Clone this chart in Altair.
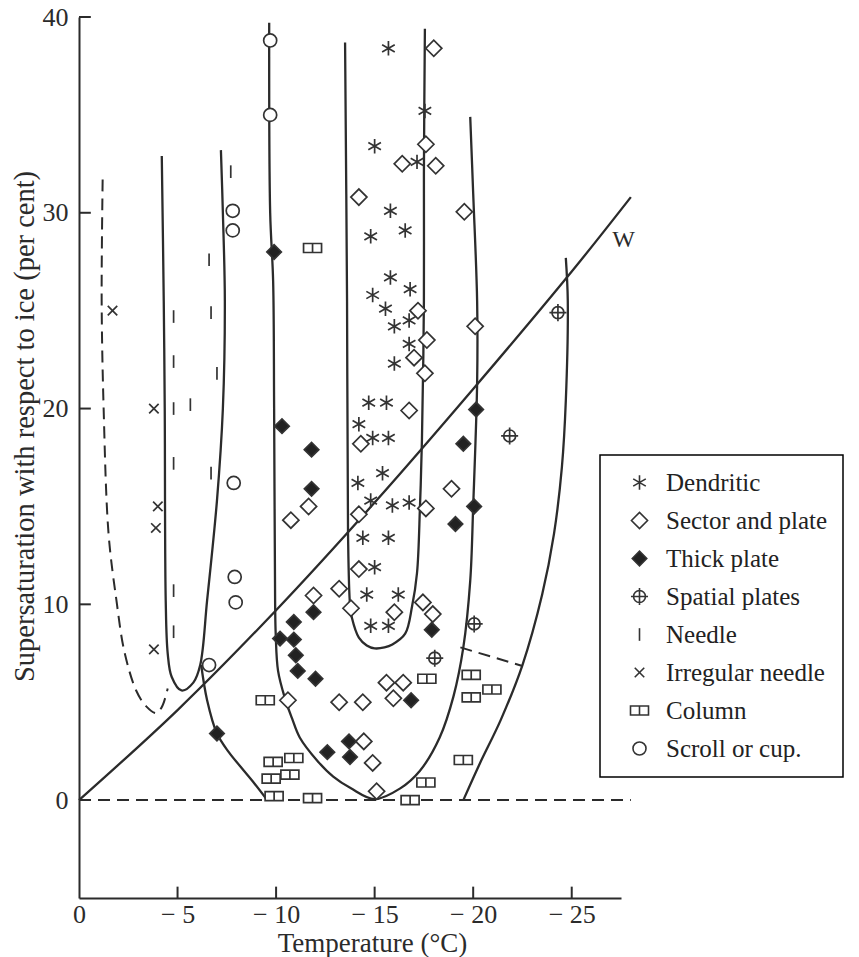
import altair as alt
import pandas as pd

# ---------------- curves (temperature, supersaturation) ----------------
w_x = [0, -5, -10, -15, -20, -25, -28]
w_y = [0, 4.6, 9.7, 15.2, 21.0, 27.0, 30.8]

dashu_x = [-1.2, -1.15, -1.25, -1.5, -1.9, -2.3, -2.9, -3.4, -3.9, -4.2, -4.5]
dashu_y = [31.7, 25.5, 20.0, 13.6, 10.2, 7.6, 5.6, 4.8, 4.45, 4.75, 5.7]

u2_x = [-4.2, -4.3, -4.35, -4.4, -4.5, -4.7, -5.2, -5.8, -6.15, -6.5, -7.0, -7.3, -7.4, -7.3, -7.2]
u2_y = [32.9, 25.5, 20.0, 10.2, 7.5, 6.3, 5.6, 6.0, 6.9, 10.2, 15.3, 20.0, 25.5, 30.0, 33.2]

c3_x = [-6.2, -6.5, -7.0, -7.6, -8.2, -8.9, -9.55]
c3_y = [6.9, 5.1, 3.4, 2.45, 1.7, 0.85, 0.0]

bigu_x = [-9.65, -9.7, -9.85, -9.9, -9.95, -9.98, -10.1, -10.45, -10.8, -11.2, -12.1, -12.9,
          -13.8, -15.0, -16.3, -17.3, -18.3, -19.0, -19.5, -19.85, -20.0, -20.2, -20.2, -20.0, -19.85]
bigu_y = [39.7, 30.0, 26.5, 20.0, 10.2, 8.5, 6.6, 5.2, 4.2, 3.2, 2.0, 1.2,
          0.6, 0.05, 0.6, 1.5, 3.2, 5.3, 7.8, 11.2, 15.0, 21.3, 25.5, 31.0, 34.9]

inu_x = [-13.5, -13.6, -13.65, -13.75, -13.85, -14.2, -14.6, -15.0, -15.5, -15.9, -16.55,
         -16.9, -17.15, -17.3, -17.4, -17.5, -17.5, -17.55]
inu_y = [38.7, 25.5, 13.6, 10.0, 9.3, 8.3, 7.9, 7.75, 7.8, 7.95, 8.5,
         9.9, 11.6, 15.0, 18.4, 25.5, 32.0, 39.4]

outr_x = [-24.7, -24.8, -24.7, -24.5, -24.1, -23.5, -22.5, -21.4, -20.35, -19.5]
outr_y = [27.7, 25.5, 20.4, 17.0, 13.6, 10.5, 6.9, 4.1, 1.9, 0.0]

seg_x = [-19.35, -22.5]
seg_y = [7.8, 6.85]

zero_x = [0, -28]
zero_y = [0, 0]

w_label_x = [-27.05]
w_label_y = [28.6]

# ---------------- observations ----------------
dend_x = [-15.7, -17.55, -15.0, -17.15, -15.8, -16.55, -14.8, -15.8, -16.8, -14.9, -15.55, -16.0,
          -16.75, -16.75, -16.0, -14.7, -15.6, -14.2, -14.9, -15.7, -15.4, -14.15, -14.8, -15.9,
          -16.75, -14.4, -15.7, -15.0, -14.6, -16.2, -14.8, -15.7]
dend_y = [38.4, 35.2, 33.4, 32.6, 30.1, 29.1, 28.8, 26.7, 26.1, 25.8, 25.1, 24.2,
          24.5, 23.3, 22.3, 20.3, 20.3, 19.2, 18.5, 18.5, 16.7, 16.2, 15.3, 15.05,
          15.2, 13.4, 13.4, 11.9, 10.5, 10.5, 8.9, 8.9]

sect_x = [-18.0, -17.6, -16.4, -18.1, -14.2, -19.55, -17.2, -17.65, -17.0, -17.55, -16.75, -14.3,
          -20.1, -18.9, -17.6, -14.2, -10.75, -11.65, -14.2, -13.2, -13.8, -11.9, -17.45, -17.95,
          -16.0, -10.6, -13.2, -14.4, -15.6, -16.45, -15.95, -14.45, -14.9, -15.1]
sect_y = [38.4, 33.5, 32.5, 32.4, 30.8, 30.05, 25.0, 23.5, 22.6, 21.8, 19.9, 18.2,
          24.2, 15.9, 14.9, 14.6, 14.3, 15.0, 11.8, 10.8, 9.8, 10.45, 10.1, 9.5,
          9.6, 5.1, 5.0, 5.0, 6.0, 6.0, 5.2, 3.0, 1.9, 0.45]

thick_x = [-9.9, -10.3, -11.8, -11.8, -20.15, -19.5, -20.05, -19.1, -11.9, -10.9, -10.2, -10.9,
           -11.0, -11.1, -12.0, -12.6, -13.7, -13.75, -16.85, -17.9, -7.0]
thick_y = [28.0, 19.1, 17.9, 15.9, 19.95, 18.2, 15.0, 14.1, 9.6, 9.1, 8.25, 8.2,
           7.4, 6.6, 6.2, 2.45, 3.0, 2.2, 5.1, 8.7, 3.4]

spat_x = [-24.3, -21.85, -20.05, -18.05]
spat_y = [24.9, 18.6, 9.0, 7.25]

needle_x = [-7.7, -6.6, -6.7, -4.8, -4.8, -7.0, -4.8, -5.65, -4.8, -6.7, -4.8, -4.8]
needle_y = [32.1, 27.6, 24.9, 24.7, 22.4, 21.8, 20.0, 20.2, 17.2, 16.7, 10.7, 8.6]

irr_x = [-1.7, -3.8, -4.0, -3.9, -3.8]
irr_y = [25.0, 20.0, 15.0, 13.9, 7.7]

col_x = [-11.85, -9.45, -9.85, -10.9, -9.75, -10.7, -9.9, -11.85, -17.65, -19.9, -20.95, -19.9,
         -19.5, -17.6, -16.8]
col_y = [28.2, 5.1, 1.95, 2.15, 1.1, 1.3, 0.2, 0.1, 6.2, 6.4, 5.65, 5.25,
         2.05, 0.9, 0.0]

scroll_x = [-9.7, -9.7, -7.8, -7.8, -7.85, -7.9, -7.95, -6.6]
scroll_y = [38.8, 35.0, 30.1, 29.1, 16.2, 11.4, 10.1, 6.9]

types = ["Dendritic", "Sector and plate", "Thick plate", "Spatial plates",
         "Needle", "Irregular needle", "Column", "Scroll or cup."]

x_tick_values = [0, -5, -10, -15, -20, -25]
y_tick_values = [0, 10, 20, 30, 40]
x_inner_ticks = [-5, -10, -15, -20, -25]
y_inner_ticks = [10, 20, 30, 40]

# ---------------- build tables ----------------
curves = [
    ("W", w_x, w_y, False),
    ("dashU", dashu_x, dashu_y, True),
    ("u2", u2_x, u2_y, False),
    ("c3", c3_x, c3_y, False),
    ("bigU", bigu_x, bigu_y, False),
    ("innerU", inu_x, inu_y, False),
    ("outer", outr_x, outr_y, False),
    ("seg", seg_x, seg_y, True),
    ("zero", zero_x, zero_y, True),
]
rows = []
for name, xs, ys, dashed in curves:
    for i, (a, b) in enumerate(zip(xs, ys)):
        rows.append({"x": a, "y": b, "curve": name, "i": i, "dashed": dashed})
lines_df = pd.DataFrame(rows)

series = [dend_x, sect_x, thick_x, spat_x, needle_x, irr_x, col_x, scroll_x]
series_y = [dend_y, sect_y, thick_y, spat_y, needle_y, irr_y, col_y, scroll_y]
prow = []
for t, xs, ys in zip(types, series, series_y):
    for a, b in zip(xs, ys):
        prow.append({"x": a, "y": b, "type": t})
pts_df = pd.DataFrame(prow)

ytick_df = pd.DataFrame({"y": y_inner_ticks, "x": [0] * len(y_inner_ticks),
                         "x2": [-0.6] * len(y_inner_ticks)})
xtick_df = pd.DataFrame({"x": x_inner_ticks, "y": [-5] * len(x_inner_ticks),
                         "y2": [-4.42] * len(x_inner_ticks)})
w_df = pd.DataFrame({"x": w_label_x, "y": w_label_y, "t": ["W"]})

# ---------------- styles ----------------
SERIF = "Liberation Serif"
INK = "#2b2b2b"

shapes = [
    "M0,-1L0,1M-0.87,-0.5L0.87,0.5M-0.87,0.5L0.87,-0.5",
    "diamond",
    "diamond",
    "M-0.7,0A0.7,0.7 0 1,1 0.7,0A0.7,0.7 0 1,1 -0.7,0ZM-1,0L1,0M0,-1L0,1",
    "M0,-1L0,1",
    "M-1,-1L1,1M-1,1L1,-1",
    "M-1,-0.5L1,-0.5L1,0.5L-1,0.5ZM0,-0.5L0,0.5",
    "circle",
]
fills = ["#333333", "white", "#222222", "white", "#333333", "#333333", "white", "white"]
strokes = ["#333333"] * len(types)
sizes = [210, 260, 210, 290, 160, 90, 324, 170]

X = alt.X(
    "x:Q",
    scale=alt.Scale(domain=[0, -27.5], nice=False, zero=False),
    axis=alt.Axis(
        values=x_tick_values, tickSize=0, grid=False, domainColor=INK, domainWidth=2,
        labelFont=SERIF, labelFontSize=26, labelColor=INK, labelPadding=3,
        labelFlush=False, labelOverlap=False,
        labelExpr="datum.value == 0 ? '0' : '\u2212 ' + format(-datum.value, 'd')",
        title="Temperature (\u00b0C)", titleFont=SERIF, titleFontSize=27,
        titleFontWeight="normal", titleColor=INK, titleX=293, titleY=53,
        titleAlign="center", titleBaseline="alphabetic",
    ),
)
Y = alt.Y(
    "y:Q",
    scale=alt.Scale(domain=[-5, 40], nice=False, zero=False),
    axis=alt.Axis(
        values=y_tick_values, tickSize=0, grid=False, domainColor=INK, domainWidth=2,
        labelFont=SERIF, labelFontSize=26, labelColor=INK, labelPadding=11,
        labelFlush=False, labelOverlap=False,
        title="Supersaturation with respect to ice (per cent)", titleFont=SERIF,
        titleFontSize=28.5, titleFontWeight="normal", titleColor=INK,
        titleAngle=270, titleX=-46, titleY=409, titleAlign="center",
        titleBaseline="alphabetic",
    ),
)

solid = alt.Chart(lines_df[~lines_df["dashed"]]).mark_line(
    interpolate="catmull-rom", color=INK, strokeWidth=2.3
).encode(x=X, y=Y, detail="curve:N", order="i:Q")

dashed = alt.Chart(lines_df[lines_df["dashed"]]).mark_line(
    interpolate="catmull-rom", color=INK, strokeWidth=2.0, strokeDash=[12, 7]
).encode(x=X, y=Y, detail="curve:N", order="i:Q")

yticks = alt.Chart(ytick_df).mark_rule(color=INK, strokeWidth=2).encode(
    x=X, x2="x2:Q", y=Y)
xticks = alt.Chart(xtick_df).mark_rule(color=INK, strokeWidth=2).encode(
    x=X, y=Y, y2="y2:Q")

leg = alt.Legend(
    title=None, orient="none", legendX=521, legendY=438, padding=15,
    strokeColor="black", fillColor="white",
    labelFont=SERIF, labelFontSize=25, labelColor="#222222", labelLimit=400,
    rowPadding=12, labelOffset=14, symbolOffset=12,
    symbolStrokeColor="#333333", symbolStrokeWidth=1.6, symbolOpacity=1,
)

points = alt.Chart(pts_df).mark_point(filled=True, opacity=1).encode(
    x=X, y=Y,
    shape=alt.Shape("type:N", scale=alt.Scale(domain=types, range=shapes), legend=leg),
    fill=alt.Fill("type:N", scale=alt.Scale(domain=types, range=fills), legend=leg),
    stroke=alt.Stroke("type:N", scale=alt.Scale(domain=types, range=strokes), legend=leg),
    size=alt.Size("type:N", scale=alt.Scale(type="ordinal", domain=types, range=sizes),
                  legend=leg),
    strokeWidth=alt.value(1.7),
)

wtext = alt.Chart(w_df).mark_text(
    align="left", baseline="middle", font=SERIF, fontSize=24, color=INK
).encode(x=X, y=Y, text="t:N")

chart = alt.layer(solid, dashed, yticks, xticks, points, wtext).properties(
    width=542, height=881,
    autosize=alt.AutoSizeParams(type="none"),
    padding={"left": 79, "top": 17, "right": 238, "bottom": 59},
).configure_view(strokeWidth=0).configure_legend(strokeWidth=1.5)

chart.save("out.html", embed_options={"renderer": "svg", "actions": False})
